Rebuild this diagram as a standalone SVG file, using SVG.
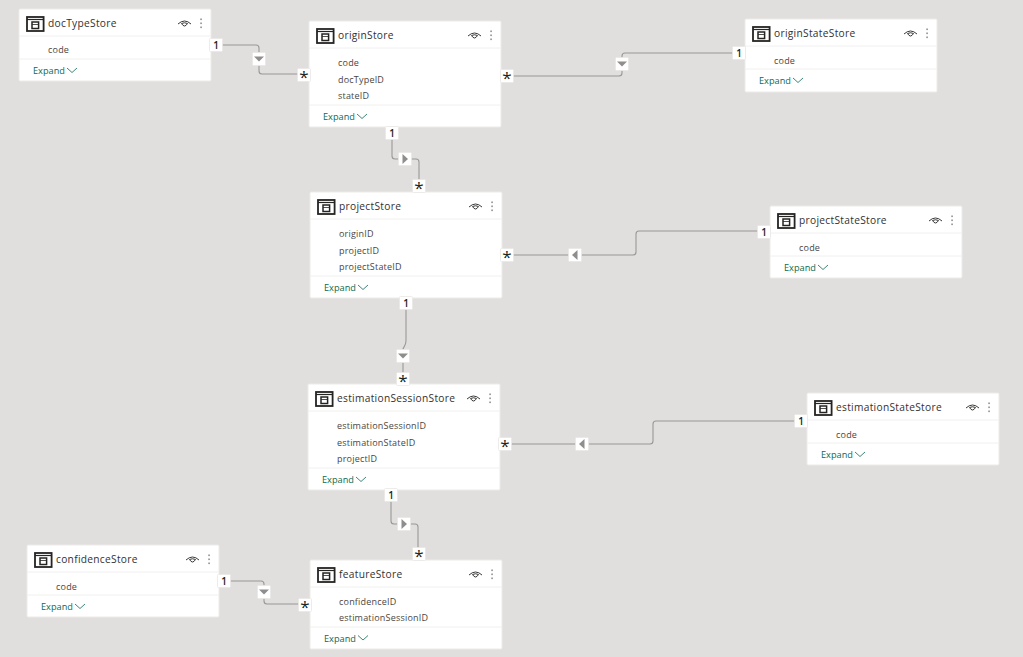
<svg xmlns="http://www.w3.org/2000/svg" xmlns:xlink="http://www.w3.org/1999/xlink" width="1023" height="657" viewBox="0 0 1023 657">
<style>
text{font-family:"Open Sans","Liberation Sans",sans-serif;}
.card{fill:#fff;stroke:#ecebe9;stroke-width:1;}
.sep{stroke:#f1f0ef;stroke-width:1;}
.title{font-size:10.2px;fill:#323130;letter-spacing:.3px;}
.row{font-size:9px;fill:#484644;letter-spacing:.2px;}
.exp{font-size:9.2px;fill:#0b6a53;}
.chev{fill:none;stroke:#0b6a53;stroke-width:.8;}
.conn{fill:none;stroke:#999896;stroke-width:1.1;}
.badge{fill:#fff;stroke:#e8e7e5;stroke-width:.8;}
.lab{font-size:10px;font-weight:600;fill:#252423;text-anchor:middle;}
.star{font-size:17px;font-weight:400;fill:#201f1e;text-anchor:middle;}
.tri{fill:#8f8e8c;}
.eye{fill:none;stroke:#252423;stroke-width:.9;}
.dot{fill:#605e5c;}
.ic{fill:none;stroke:#252423;}
</style>
<defs>
<g id="hdr">
<rect class="ic" x="8" y="8" width="16.600" height="14" stroke-width="1.800"/>
<path class="ic" d="M8 10.500H25" stroke-width="1.200"/>
<rect class="ic" x="13" y="13" width="6.600" height="6.500" stroke-width="1.500"/>
<path class="ic" d="M13 15.500H19.600" stroke-width=".8"/>
<path class="eye" d="M159 15Q165.500 9 172 15M162.500 14.500Q165.500 19.500 168.500 14.500Q165.500 13 162.500 14.500"/>
<rect class="dot" x="181.500" y="9.500" width="1.100" height="1.600"/>
<rect class="dot" x="181.500" y="13.500" width="1.100" height="1.600"/>
<rect class="dot" x="181.500" y="17.500" width="1.100" height="1.600"/>
</g>
<path id="chev" class="chev" d="M0 0L5 4.500L10 0"/>
<g id="bg"><rect class="badge" x="-6.500" y="-6.500" width="13" height="13" rx="1"/></g>
<g id="td"><rect class="badge" x="-6.500" y="-6.500" width="13" height="13" rx="1"/><path class="tri" d="M-5 -2.500H5L0 2.500Z"/></g>
<g id="tr"><rect class="badge" x="-6.500" y="-6.500" width="13" height="13" rx="1"/><path class="tri" d="M-2.500 -5V5L3 0Z"/></g>
<g id="tl"><rect class="badge" x="-6.500" y="-6.500" width="13" height="13" rx="1"/><path class="tri" d="M2.500 -5V5L-3 0Z"/></g>
</defs>
<rect width="1023" height="657" fill="#e0dfdd"/>
<g id="connectors">
<path class="conn" d="M211 45H256Q259 45 259 48V71Q259 74 262 74H309"/>
<path class="conn" d="M501 76H619Q622 76 622 73V56Q622 53 625 53H745"/>
<path class="conn" d="M392 127V156Q392 159 395 159H416Q419 159 419 162V192"/>
<path class="conn" d="M502 255H633Q636 255 636 252V234Q636 231 639 231H770"/>
<path class="conn" d="M406 298V340Q406 343 405 345L403 349V384"/>
<path class="conn" d="M500 444H650Q653 444 653 441V424Q653 421 656 421H807"/>
<path class="conn" d="M391 490V521Q391 524 394 524H415Q418 524 418 527V560"/>
<path class="conn" d="M219 581H261Q264 581 264 584V601Q264 604 267 604H310"/>
<use xlink:href="#td" href="#td" x="259" y="59"/>
<use xlink:href="#td" href="#td" x="622" y="64"/>
<use xlink:href="#tr" href="#tr" x="405" y="159"/>
<use xlink:href="#tl" href="#tl" x="575" y="255"/>
<use xlink:href="#td" href="#td" x="403" y="356"/>
<use xlink:href="#tl" href="#tl" x="582" y="444"/>
<use xlink:href="#tr" href="#tr" x="404" y="524"/>
<use xlink:href="#td" href="#td" x="264" y="592"/>
</g>
<g id="docTypeStore" transform="translate(19 9)"><rect class="card" width="192" height="72" rx="1"/><use xlink:href="#hdr" href="#hdr"/><path class="sep" d="M0 27H192M0 50H192"/><text class="title" x="29" y="17.500">docTypeStore</text><text class="row" x="29" y="44">code</text><text class="exp" x="14" y="65">Expand</text><use xlink:href="#chev" href="#chev" x="48" y="59"/></g>
<g id="originStore" transform="translate(309 21)"><rect class="card" width="192" height="106" rx="1"/><use xlink:href="#hdr" href="#hdr"/><path class="sep" d="M0 27H192M0 84H192"/><text class="title" x="29" y="17.500">originStore</text><text class="row" x="29" y="45">code</text><text class="row" x="29" y="61.500">docTypeID</text><text class="row" x="29" y="78">stateID</text><text class="exp" x="14" y="99">Expand</text><use xlink:href="#chev" href="#chev" x="48" y="93"/></g>
<g id="originStateStore" transform="translate(745 19)"><rect class="card" width="192" height="73" rx="1"/><use xlink:href="#hdr" href="#hdr"/><path class="sep" d="M0 27H192M0 50H192"/><text class="title" x="29" y="17.500">originStateStore</text><text class="row" x="29" y="45">code</text><text class="exp" x="14" y="65">Expand</text><use xlink:href="#chev" href="#chev" x="48" y="59"/></g>
<g id="projectStore" transform="translate(310 192)"><rect class="card" width="192" height="106" rx="1"/><use xlink:href="#hdr" href="#hdr"/><path class="sep" d="M0 27H192M0 84H192"/><text class="title" x="29" y="17.500">projectStore</text><text class="row" x="29" y="45">originID</text><text class="row" x="29" y="61.500">projectID</text><text class="row" x="29" y="78">projectStateID</text><text class="exp" x="14" y="99">Expand</text><use xlink:href="#chev" href="#chev" x="48" y="93"/></g>
<g id="projectStateStore" transform="translate(770 206)"><rect class="card" width="192" height="72" rx="1"/><use xlink:href="#hdr" href="#hdr"/><path class="sep" d="M0 27H192M0 50H192"/><text class="title" x="29" y="17.500">projectStateStore</text><text class="row" x="29" y="45">code</text><text class="exp" x="14" y="65">Expand</text><use xlink:href="#chev" href="#chev" x="48" y="59"/></g>
<g id="estimationSessionStore" transform="translate(308 384)"><rect class="card" width="192" height="106" rx="1"/><use xlink:href="#hdr" href="#hdr"/><path class="sep" d="M0 27H192M0 84H192"/><text class="title" x="29" y="17.500">estimationSessionStore</text><text class="row" x="29" y="45">estimationSessionID</text><text class="row" x="29" y="61.500">estimationStateID</text><text class="row" x="29" y="78">projectID</text><text class="exp" x="14" y="99">Expand</text><use xlink:href="#chev" href="#chev" x="48" y="93"/></g>
<g id="estimationStateStore" transform="translate(807 393)"><rect class="card" width="192" height="72" rx="1"/><use xlink:href="#hdr" href="#hdr"/><path class="sep" d="M0 27H192M0 50H192"/><text class="title" x="29" y="17.500">estimationStateStore</text><text class="row" x="29" y="45">code</text><text class="exp" x="14" y="65">Expand</text><use xlink:href="#chev" href="#chev" x="48" y="59"/></g>
<g id="confidenceStore" transform="translate(27 545)"><rect class="card" width="192" height="72" rx="1"/><use xlink:href="#hdr" href="#hdr"/><path class="sep" d="M0 27H192M0 50H192"/><text class="title" x="29" y="17.500">confidenceStore</text><text class="row" x="29" y="45">code</text><text class="exp" x="14" y="65">Expand</text><use xlink:href="#chev" href="#chev" x="48" y="59"/></g>
<g id="featureStore" transform="translate(310 560)"><rect class="card" width="192" height="89" rx="1"/><use xlink:href="#hdr" href="#hdr"/><path class="sep" d="M0 27H192M0 67H192"/><text class="title" x="29" y="17.500">featureStore</text><text class="row" x="29" y="45">confidenceID</text><text class="row" x="29" y="61">estimationSessionID</text><text class="exp" x="14" y="81.500">Expand</text><use xlink:href="#chev" href="#chev" x="48" y="75.500"/></g>
<g id="cardinalities">
<use xlink:href="#bg" href="#bg" x="216" y="45"/><text class="lab" x="216" y="48.500">1</text>
<use xlink:href="#bg" href="#bg" x="304" y="75"/><text class="star" x="304" y="83">*</text>
<use xlink:href="#bg" href="#bg" x="507" y="76"/><text class="star" x="507" y="84">*</text>
<use xlink:href="#bg" href="#bg" x="739" y="53"/><text class="lab" x="739" y="56.500">1</text>
<use xlink:href="#bg" href="#bg" x="392" y="133"/><text class="lab" x="392" y="136.500">1</text>
<use xlink:href="#bg" href="#bg" x="419" y="186"/><text class="star" x="419" y="194">*</text>
<use xlink:href="#bg" href="#bg" x="507" y="255"/><text class="star" x="507" y="263">*</text>
<use xlink:href="#bg" href="#bg" x="764" y="232"/><text class="lab" x="764" y="235.500">1</text>
<use xlink:href="#bg" href="#bg" x="406" y="303"/><text class="lab" x="406" y="306.500">1</text>
<use xlink:href="#bg" href="#bg" x="403" y="379"/><text class="star" x="403" y="387">*</text>
<use xlink:href="#bg" href="#bg" x="505" y="444"/><text class="star" x="505" y="452">*</text>
<use xlink:href="#bg" href="#bg" x="801" y="421"/><text class="lab" x="801" y="424.500">1</text>
<use xlink:href="#bg" href="#bg" x="391" y="495"/><text class="lab" x="391" y="498.500">1</text>
<use xlink:href="#bg" href="#bg" x="419" y="554"/><text class="star" x="419" y="562">*</text>
<use xlink:href="#bg" href="#bg" x="224" y="581"/><text class="lab" x="224" y="584.500">1</text>
<use xlink:href="#bg" href="#bg" x="305" y="605"/><text class="star" x="305" y="613">*</text>
</g>
</svg>
